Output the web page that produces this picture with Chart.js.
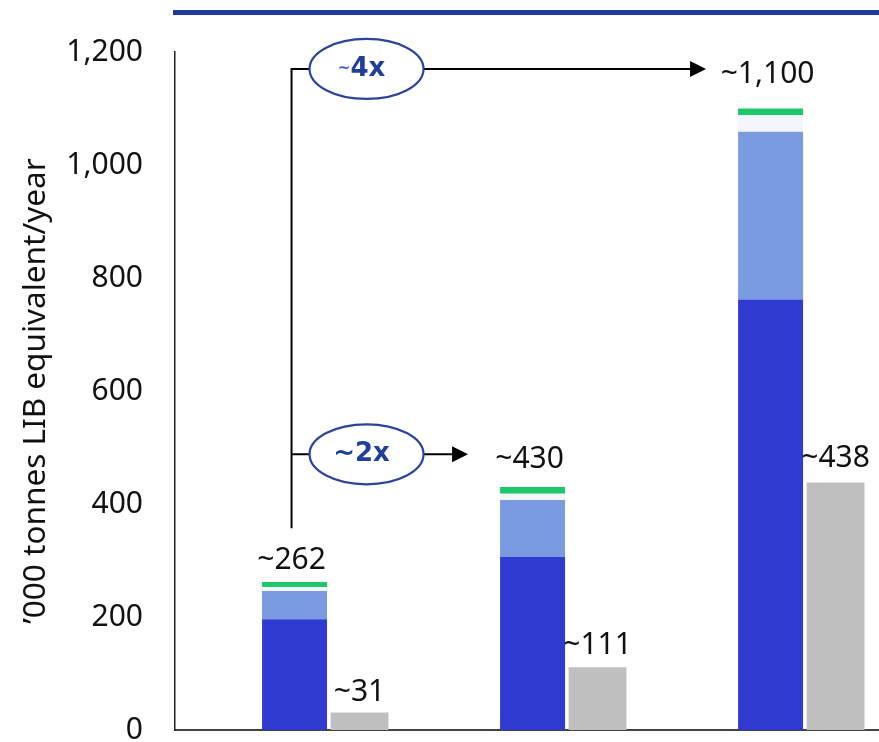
<!DOCTYPE html>
<html>
<head>
<meta charset="utf-8">
<script src="https://cdn.jsdelivr.net/npm/chart.js@4.4.1/dist/chart.umd.min.js"></script>
<style>
  html, body { margin: 0; padding: 0; background: #ffffff; overflow: hidden; }
  canvas { display: block; }
</style>
</head>
<body>
<canvas id="chart" width="879" height="742"></canvas>
<script>
// ---- data ('000 tonnes LIB equivalent / year) ----
const categories   = ['Period 1', 'Period 2', 'Period 3'];
const stackLower   = [196, 306, 762];
const stackMiddle  = [50, 101, 297];
const stackUpper   = [7, 11, 29];
const stackTop     = [9, 12, 12];
const comparison   = [31, 111, 438];
const yTicks       = [0, 200, 400, 600, 800, 1000, 1200];
const growthLabels = ['~2x', '~4x'];
const growthTargets = [1, 2];

const stackTotals = categories.map((_, i) =>
  stackLower[i] + stackMiddle[i] + stackUpper[i] + stackTop[i]);

const fmt = v => v.toLocaleString('en-US');
const points = arr => arr.map((v, i) => ({ x: i, y: v }));

const FONT = '"Noto Sans", "Open Sans", sans-serif';

// blue rule across the top of the plot
const topRule = {
  id: 'topRule',
  beforeDraw(chart) {
    const { ctx, chartArea } = chart;
    ctx.save();
    ctx.fillStyle = '#1f3c9c';
    ctx.fillRect(chartArea.left - 2, 10, chart.width - chartArea.left + 2, 5);
    ctx.restore();
  }
};

// "~value" labels above every bar
const valueLabels = {
  id: 'valueLabels',
  afterDatasetsDraw(chart, args, opts) {
    const ctx = chart.ctx;
    const topMeta = chart.getDatasetMeta(3);
    const sideMeta = chart.getDatasetMeta(4);
    ctx.save();
    ctx.font = '30px ' + FONT;
    ctx.fillStyle = '#111111';
    ctx.textAlign = 'center';
    ctx.textBaseline = 'alphabetic';
    categories.forEach((_, i) => {
      const b = topMeta.data[i];
      ctx.fillText('~' + fmt(stackTotals[i]), b.x - 3, b.y - opts.totalLift[i]);
      const g = sideMeta.data[i];
      ctx.fillText('~' + fmt(comparison[i]), g.x, g.y - opts.sideLift[i]);
    });
    ctx.restore();
  }
};

// bracket with growth multiples and arrows
const growthArrows = {
  id: 'growthArrows',
  afterDatasetsDraw(chart, args, opts) {
    const { ctx, scales } = chart;
    const y = scales.y;
    const base = chart.getDatasetMeta(0);
    const vx = base.data[0].x - 3;
    ctx.save();
    ctx.strokeStyle = '#000000';
    ctx.fillStyle = '#000000';
    ctx.lineWidth = 2;
    // vertical spine
    ctx.beginPath();
    ctx.moveTo(vx, y.getPixelForValue(opts.spineFrom));
    ctx.lineTo(vx, y.getPixelForValue(opts.levels[opts.levels.length - 1]) - 1);
    ctx.stroke();
    growthLabels.forEach((label, k) => {
      const ly = y.getPixelForValue(opts.levels[k]);
      const cx = vx + 75, rx = 57, ry = 30;
      const target = base.data[growthTargets[k]];
      const tip = target.x - target.width / 2 - 32;
      ctx.strokeStyle = '#000000';
      ctx.fillStyle = '#000000';
      ctx.lineWidth = 2;
      ctx.beginPath();
      ctx.moveTo(vx, ly);
      ctx.lineTo(cx - rx, ly);
      ctx.moveTo(cx + rx, ly);
      ctx.lineTo(tip - 14, ly);
      ctx.stroke();
      ctx.beginPath();
      ctx.moveTo(tip, ly);
      ctx.lineTo(tip - 16, ly - 8);
      ctx.lineTo(tip - 16, ly + 8);
      ctx.closePath();
      ctx.fill();
      ctx.beginPath();
      ctx.ellipse(cx, ly, rx, ry, 0, 0, Math.PI * 2);
      ctx.fillStyle = '#ffffff';
      ctx.fill();
      ctx.strokeStyle = '#2b449b';
      ctx.lineWidth = 2.2;
      ctx.stroke();
      // multiple text: tilde and figure drawn side by side
      const tilde = label.charAt(0);
      const rest = label.slice(1);
      const fTilde = 'bold ' + opts.tildeSize[k] + 'px "DejaVu Sans", sans-serif';
      const fRest = 'bold ' + opts.labelSize + 'px "DejaVu Sans", sans-serif';
      ctx.font = fTilde;
      const wT = ctx.measureText(tilde).width;
      ctx.font = fRest;
      const wR = ctx.measureText(rest).width;
      const x0 = cx - 5 - (wT + wR) / 2;
      ctx.textAlign = 'left';
      ctx.textBaseline = 'middle';
      ctx.fillStyle = opts.tildeColor[k];
      ctx.font = fTilde;
      ctx.fillText(tilde, x0, ly);
      ctx.fillStyle = '#213f99';
      ctx.font = fRest;
      ctx.fillText(rest, x0 + wT, ly);
    });
    ctx.restore();
  }
};

const stackCommon = { stack: 'supply', barPercentage: 1.0, categoryPercentage: 0.546, borderWidth: 0 };

new Chart(document.getElementById('chart'), {
  type: 'bar',
  data: {
    datasets: [
      { label: 'Lower', data: points(stackLower),  backgroundColor: '#2f3bd1', ...stackCommon },
      { label: 'Middle', data: points(stackMiddle), backgroundColor: '#7b9be0', ...stackCommon },
      { label: 'Upper', data: points(stackUpper),  backgroundColor: '#f3f7fd', ...stackCommon },
      { label: 'Top', data: points(stackTop),    backgroundColor: '#1ec86a', ...stackCommon },
      { label: 'Comparison', data: points(comparison), backgroundColor: '#bfbfbf',
        stack: 'side', barPercentage: 0.89, categoryPercentage: 0.546, borderWidth: 0 }
    ]
  },
  options: {
    responsive: false,
    animation: false,
    layout: { padding: { top: 52, bottom: 12, left: 0, right: 0 } },
    plugins: {
      legend: { display: false },
      tooltip: { enabled: false },
      valueLabels: { totalLift: [13, 19, 26], sideLift: [11, 13, 16] },
      growthArrows: {
        spineFrom: 357, levels: [488, 1170], labelSize: 26,
        tildeSize: [26, 15], tildeColor: ['#213f99', '#3b5ccc']
      }
    },
    scales: {
      x: {
        type: 'linear',
        offset: false,
        min: -0.6387,
        max: 2.319,
        stacked: true,
        afterBuildTicks: s => { s.ticks = categories.map((_, i) => ({ value: i })); },
        afterFit: s => { s.height = 0; },
        ticks: { display: false },
        grid: { display: false, drawTicks: false },
        border: { display: true, color: '#444444', width: 2 }
      },
      y: {
        stacked: true,
        min: 0,
        max: 1200,
        afterBuildTicks: s => { s.ticks = yTicks.map(v => ({ value: v })); },
        afterFit: s => { s.width = 175; s.paddingTop = 0; s.paddingBottom = 0; },
        ticks: {
          padding: 32,
          color: '#111111',
          font: { family: FONT, size: 30 },
          callback: v => fmt(v)
        },
        grid: { display: false, drawTicks: false },
        border: { display: true, color: '#222222', width: 1.5 },
        title: {
          display: true,
          text: '\u2019000 tonnes LIB equivalent/year',
          color: '#111111',
          font: { family: FONT, size: 31.5 },
          padding: { top: 17.5, bottom: 0 }
        }
      }
    }
  },
  plugins: [topRule, valueLabels, growthArrows]
});
</script>
</body>
</html>
